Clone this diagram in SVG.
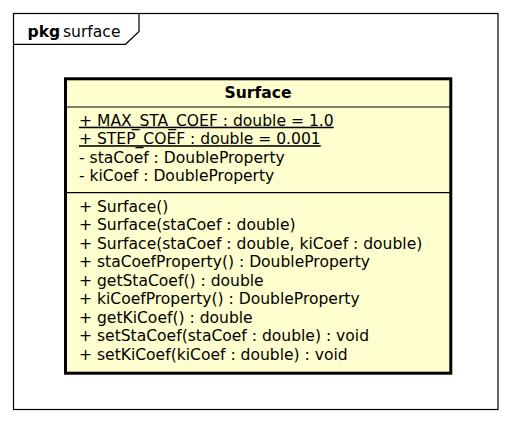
<svg xmlns="http://www.w3.org/2000/svg" width="510" height="422" viewBox="0 0 510 422">
<style>
.t{font-family:"DejaVu Sans",sans-serif;font-size:15.55px;fill:#000}
.b{font-weight:bold}
.u{text-decoration:underline}
.ln{stroke:#000;fill:none}
</style>
<rect width="510" height="422" fill="#fff"/>
<g id="pkg-surface">
<rect class="ln" x="13.5" y="13.5" width="484.5" height="396" stroke-width="1.2"/>
<polyline class="ln" points="13.5,44.3 125.5,44.3 139,31.5 139,13.5" stroke-width="1.2"/>
<text class="t" x="27.5" y="36.5"><tspan class="b">pkg</tspan><tspan x="63">surface</tspan></text>
</g>
<g id="class-Surface">
<rect x="65.5" y="78.8" width="385.3" height="294.4" fill="#FEFECE" stroke="#000" stroke-width="3"/>
<line class="ln" x1="65.5" y1="107" x2="450.8" y2="107" stroke-width="1.2"/>
<line class="ln" x1="65.5" y1="192.7" x2="450.8" y2="192.7" stroke-width="1.2"/>
<text class="t b" x="258" y="97.7" text-anchor="middle">Surface</text>
<text class="t u" x="79" y="125.7">+ MAX_STA_COEF : double = 1.0</text>
<text class="t u" x="79" y="144.2">+ STEP_COEF : double = 0.001</text>
<text class="t" x="79" y="162.8">- staCoef : DoubleProperty</text>
<text class="t" x="79" y="181.3">- kiCoef : DoubleProperty</text>
<text class="t" x="79" y="211.6">+ Surface()</text>
<text class="t" x="79" y="230.1">+ Surface(staCoef : double)</text>
<text class="t" x="79" y="248.6">+ Surface(staCoef : double, kiCoef : double)</text>
<text class="t" x="79" y="267.1">+ staCoefProperty() : DoubleProperty</text>
<text class="t" x="79" y="285.6">+ getStaCoef() : double</text>
<text class="t" x="79" y="304.1">+ kiCoefProperty() : DoubleProperty</text>
<text class="t" x="79" y="322.6">+ getKiCoef() : double</text>
<text class="t" x="79" y="341.1">+ setStaCoef(staCoef : double) : void</text>
<text class="t" x="79" y="359.6">+ setKiCoef(kiCoef : double) : void</text>
</g>
<g id="connectors"></g>
</svg>
